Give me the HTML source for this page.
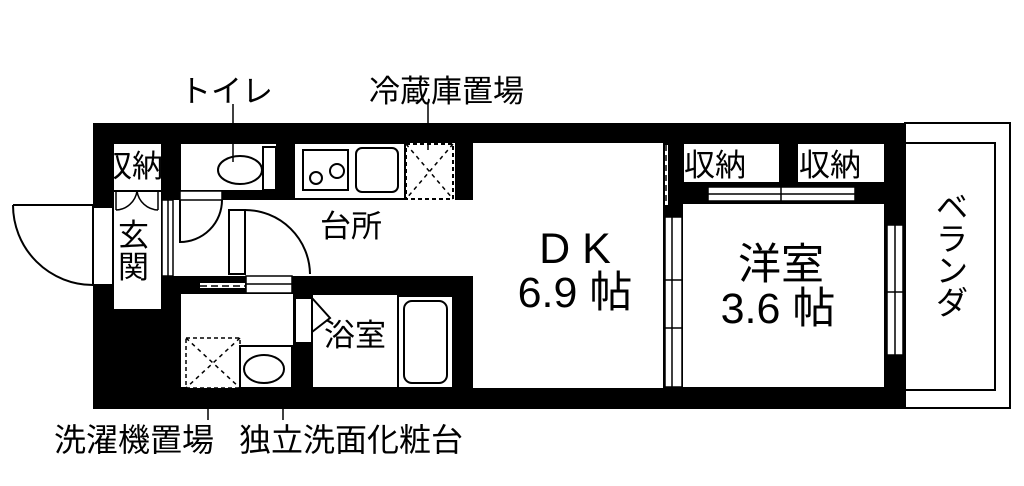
<!DOCTYPE html>
<html><head><meta charset="utf-8"><style>
html,body{margin:0;padding:0;background:#fff;}
svg{display:block;}
text{font-family:"Liberation Sans","Noto Sans CJK JP",sans-serif;fill:#000;}
</style></head><body>
<svg width="1024" height="486" viewBox="0 0 1024 486" xmlns="http://www.w3.org/2000/svg">
<rect x="93" y="123" width="812" height="286" fill="#000"/>
<rect x="905" y="123" width="105" height="285" fill="#fff" stroke="#000" stroke-width="2"/>
<rect x="905" y="143" width="90" height="247" fill="#fff" stroke="#000" stroke-width="2"/>
<g fill="#fff" stroke="#000" stroke-width="2">
<rect x="113" y="143" width="49" height="48"/>
<rect x="113" y="191" width="49" height="119"/>
<rect x="180" y="143" width="97" height="48"/>
<rect x="166" y="200" width="307" height="76" stroke="none"/>
<rect x="180" y="191" width="42" height="12" stroke="none"/>
<rect x="294" y="143" width="161" height="64" stroke="none"/>
<rect x="294" y="205" width="179" height="71" stroke="none"/>
<rect x="473" y="143" width="190" height="245" stroke="none"/>
<rect x="682" y="203" width="203" height="185"/>
<rect x="683" y="143" width="97" height="40"/>
<rect x="797" y="143" width="88" height="40"/>
<rect x="180" y="293" width="114" height="95"/>
<rect x="312" y="294" width="143" height="94"/>
</g>
<rect x="93" y="207" width="20" height="78" fill="#fff" stroke="#000" stroke-width="2"/>
<path d="M13 205 H93 M13 205 A80 80 0 0 0 93 285" fill="none" stroke="#000" stroke-width="2"/>
<path d="M116 210 A22 22 0 0 0 137 191 A22 22 0 0 0 158 210 M116 191 V210 M158 191 V210" fill="none" stroke="#000" stroke-width="1.5"/>
<rect x="162" y="200" width="11" height="76" fill="#fff" stroke="#000" stroke-width="1.5"/>
<line x1="168" y1="200" x2="168" y2="276" stroke="#000" stroke-width="1.5"/>
<path d="M180 200 V242 A42 42 0 0 0 222 200" fill="none" stroke="#000" stroke-width="2"/>
<rect x="180" y="191" width="42" height="9" fill="#fff" stroke="#000" stroke-width="1.5"/>
<rect x="229" y="210" width="16" height="64" fill="#fff" stroke="#000" stroke-width="2"/>
<path d="M245 210 A65 65 0 0 1 310 274" fill="none" stroke="#000" stroke-width="2"/>
<ellipse cx="240" cy="170" rx="22" ry="14" fill="#fff" stroke="#000" stroke-width="2"/>
<rect x="263" y="147" width="13" height="43" fill="#fff" stroke="#000" stroke-width="2"/>
<rect x="294" y="143" width="111" height="56" fill="#fff" stroke="#000" stroke-width="2"/>
<rect x="303" y="150" width="45" height="40" fill="#fff" stroke="#000" stroke-width="2"/>
<circle cx="316" cy="178" r="6" fill="none" stroke="#000" stroke-width="2"/>
<circle cx="337" cy="171" r="7" fill="none" stroke="#000" stroke-width="2"/>
<rect x="356" y="148" width="42" height="44" rx="6" fill="#fff" stroke="#000" stroke-width="2"/>
<rect x="406" y="144" width="47" height="55" fill="#fff" stroke="#000" stroke-width="2" stroke-dasharray="4 3"/>
<path d="M406 144 L453 199 M453 144 L406 199" stroke="#000" stroke-width="1.5" stroke-dasharray="4 4"/>
<rect x="162" y="276" width="311" height="18" fill="#000"/>
<rect x="200" y="283" width="45" height="5" fill="#fff"/>
<line x1="200" y1="286" x2="245" y2="286" stroke="#000" stroke-width="1.5" stroke-dasharray="7 4"/>
<rect x="246" y="276" width="46" height="17" fill="#fff" stroke="#000" stroke-width="1.5"/>
<line x1="246" y1="284" x2="292" y2="284" stroke="#000" stroke-width="1.5"/>
<rect x="186" y="338" width="54" height="50" fill="#fff" stroke="#000" stroke-width="1.5" stroke-dasharray="4 3"/>
<path d="M186 338 L240 388 M240 338 L186 388" stroke="#000" stroke-width="1.5" stroke-dasharray="4 4"/>
<rect x="240" y="346" width="52" height="42" fill="#fff" stroke="#000" stroke-width="2"/>
<ellipse cx="264" cy="369" rx="20" ry="14" fill="none" stroke="#000" stroke-width="2"/>
<rect x="295" y="298" width="17" height="45" fill="#fff" stroke="#000" stroke-width="2"/>
<path d="M312 298 L330 318 L312 332" fill="none" stroke="#000" stroke-width="2"/>
<rect x="398" y="296" width="55" height="92" fill="#fff" stroke="#000" stroke-width="2"/>
<rect x="404" y="301" width="43" height="82" rx="8" fill="none" stroke="#000" stroke-width="2"/>
<rect x="665" y="145" width="3" height="60" fill="#fff"/>
<line x1="666" y1="145" x2="666" y2="205" stroke="#000" stroke-width="1.5" stroke-dasharray="6 4"/>
<rect x="665" y="217" width="17" height="170" fill="#fff" stroke="#000" stroke-width="1.5"/>
<line x1="672" y1="217" x2="672" y2="387" stroke="#000" stroke-width="1.5"/>
<path d="M665 280 H682 M665 328 H682" stroke="#000" stroke-width="1.5"/>
<rect x="708" y="187" width="147" height="14" fill="#fff" stroke="#000" stroke-width="1.5"/>
<line x1="708" y1="194" x2="855" y2="194" stroke="#000" stroke-width="1.5"/>
<line x1="781" y1="187" x2="781" y2="201" stroke="#000" stroke-width="1.5"/>
<rect x="887" y="225" width="16" height="130" fill="#fff" stroke="#000" stroke-width="1.5"/>
<line x1="895" y1="225" x2="895" y2="355" stroke="#000" stroke-width="1.5"/>
<line x1="887" y1="292" x2="903" y2="292" stroke="#000" stroke-width="1.5"/>
<g stroke="#000" stroke-width="1.5">
<line x1="233" y1="104" x2="233" y2="162"/>
<line x1="428" y1="104" x2="428" y2="150"/>
<line x1="208" y1="388" x2="208" y2="420"/>
<line x1="283" y1="388" x2="283" y2="420"/>
</g>
<g font-size="31">
<text x="180" y="102">トイレ</text>
<text x="369" y="102">冷蔵庫置場</text>
<text x="54" y="451" font-size="32">洗濯機置場</text>
<text x="239" y="451" font-size="32">独立洗面化粧台</text>
<text x="101" y="177">収納</text>
<text x="320" y="237">台所</text>
<text x="324" y="346">浴室</text>
<text x="684" y="176">収納</text>
<text x="799" y="176">収納</text>
<text x="118" y="246" font-size="31">玄</text>
<text x="118" y="278" font-size="31">関</text>
</g>
<g font-size="43" text-anchor="middle">
<text x="575" y="263">D K</text>
<text x="575" y="307">6.9 帖</text>
<text x="781" y="279">洋室</text>
<text x="778" y="323">3.6 帖</text>
</g>
<g font-size="32" text-anchor="middle">
<text x="952" y="218">ベ</text>
<text x="952" y="250">ラ</text>
<text x="952" y="282">ン</text>
<text x="952" y="314">ダ</text>
</g>
</svg>
</body></html>
